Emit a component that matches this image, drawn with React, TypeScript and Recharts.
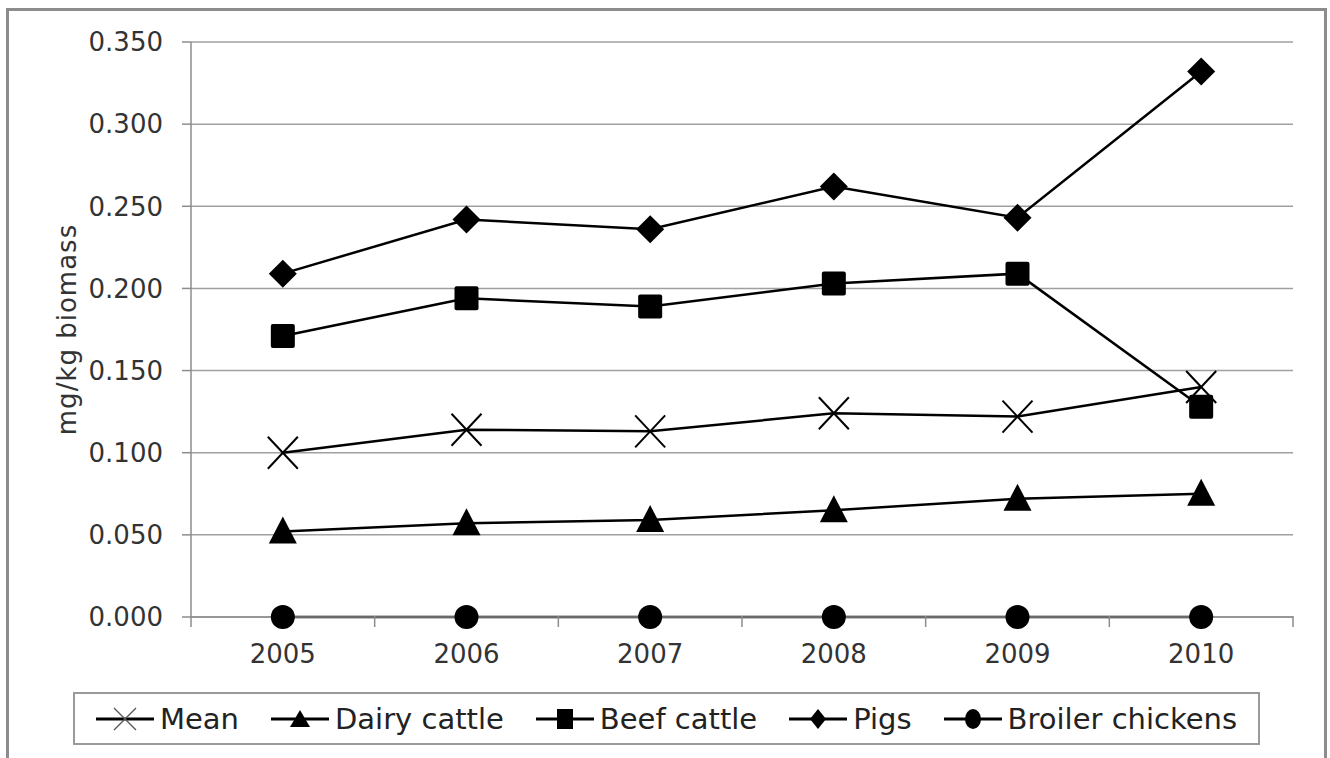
import React from 'react';
import {
  LineChart,
  Line,
  XAxis,
  YAxis,
  CartesianGrid,
  Legend,
} from 'recharts';

const years = ['2005', '2006', '2007', '2008', '2009', '2010'];
const meanValues = [0.1, 0.114, 0.113, 0.124, 0.122, 0.14];
const dairyValues = [0.052, 0.057, 0.059, 0.065, 0.072, 0.075];
const beefValues = [0.171, 0.194, 0.189, 0.203, 0.209, 0.128];
const pigValues = [0.209, 0.242, 0.236, 0.262, 0.243, 0.332];
const broilerValues = [0, 0, 0, 0, 0, 0];
const yTicks = [0, 0.05, 0.1, 0.15, 0.2, 0.25, 0.3, 0.35];

const data = years.map((year, i) => ({
  year,
  mean: meanValues[i],
  dairy: dairyValues[i],
  beef: beefValues[i],
  pigs: pigValues[i],
  broiler: broilerValues[i],
}));

type Shape = 'cross' | 'triangle' | 'square' | 'diamond' | 'circle';

const series: { key: string; name: string; shape: Shape }[] = [
  { key: 'mean', name: 'Mean', shape: 'cross' },
  { key: 'dairy', name: 'Dairy cattle', shape: 'triangle' },
  { key: 'beef', name: 'Beef cattle', shape: 'square' },
  { key: 'pigs', name: 'Pigs', shape: 'diamond' },
  { key: 'broiler', name: 'Broiler chickens', shape: 'circle' },
];

const FONT = '"DejaVu Sans", sans-serif';
const CHART_W = 1315;
const CHART_H = 747;
const MARGIN = { top: 31, right: 31, left: 0, bottom: 81 };
const Y_AXIS_W = 182;
const PLOT_W = CHART_W - MARGIN.right - Y_AXIS_W;
const BAND = PLOT_W / years.length;

const marker = (shape: Shape, cx: number, cy: number, key?: string | number) => {
  switch (shape) {
    case 'cross':
      return (
        <g key={key}>
          <line x1={cx - 15} y1={cy - 16} x2={cx + 15} y2={cy + 16} stroke='#000' strokeWidth={2} />
          <line x1={cx - 15} y1={cy + 16} x2={cx + 15} y2={cy - 16} stroke='#000' strokeWidth={2} />
        </g>
      );
    case 'triangle':
      return (
        <polygon
          key={key}
          points={`${cx},${cy - 15} ${cx + 14},${cy + 12} ${cx - 14},${cy + 12}`}
          fill='#000'
        />
      );
    case 'square':
      return <rect key={key} x={cx - 12} y={cy - 12} width={24} height={24} rx={2} fill='#000' />;
    case 'diamond':
      return (
        <polygon
          key={key}
          points={`${cx},${cy - 14} ${cx + 14},${cy} ${cx},${cy + 14} ${cx - 14},${cy}`}
          fill='#000'
        />
      );
    default:
      return <circle key={key} cx={cx} cy={cy} r={12} fill='#000' />;
  }
};

const legendIcon = (shape: Shape) => {
  const w = 58;
  const c = w / 2;
  const m = 16;
  let mark: React.ReactNode;
  if (shape === 'cross') {
    mark = (
      <g stroke='#555' strokeWidth={1.3}>
        <line x1={c - 11} y1={m - 11} x2={c + 11} y2={m + 11} />
        <line x1={c - 11} y1={m + 11} x2={c + 11} y2={m - 11} />
      </g>
    );
  } else if (shape === 'triangle') {
    mark = <polygon points={`${c},${m - 9} ${c + 10},${m + 8} ${c - 10},${m + 8}`} fill='#000' />;
  } else if (shape === 'square') {
    mark = <rect x={c - 8} y={m - 10} width={16} height={20} fill='#000' />;
  } else if (shape === 'diamond') {
    mark = <polygon points={`${c},${m - 10} ${c + 8},${m} ${c},${m + 10} ${c - 8},${m}`} fill='#000' />;
  } else {
    mark = <ellipse cx={c} cy={m} rx={8} ry={10} fill='#000' />;
  }
  return (
    <svg width={w} height={32} style={{ display: 'block' }}>
      <line x1={0} y1={m} x2={w} y2={m} stroke='#000' strokeWidth={3} />
      {mark}
    </svg>
  );
};

const LegendBox = () => (
  <div
    style={{
      boxSizing: 'border-box',
      width: 1187,
      height: 53,
      border: '2px solid #9a9a9a',
      display: 'flex',
      alignItems: 'center',
      justifyContent: 'center',
      fontFamily: FONT,
      fontSize: 29,
      color: '#222',
    }}
  >
    {series.map((s, i) => (
      <div
        key={s.key}
        style={{
          display: 'flex',
          alignItems: 'center',
          marginLeft: i === 0 ? 0 : 32,
        }}
      >
        {legendIcon(s.shape)}
        <span style={{ marginLeft: 6, whiteSpace: 'nowrap' }}>{s.name}</span>
      </div>
    ))}
  </div>
);

const YearTick = (props: any) => {
  const { x, y, payload, index } = props;
  const top = y - 10;
  const last = index === years.length - 1;
  return (
    <g>
      <line x1={x - BAND / 2} y1={top - 1} x2={x - BAND / 2} y2={top + 10} stroke='#8c8c8c' strokeWidth={1.5} />
      {last && (
        <line x1={x + BAND / 2} y1={top - 1} x2={x + BAND / 2} y2={top + 10} stroke='#8c8c8c' strokeWidth={1.5} />
      )}
      <text
        x={x}
        y={y + 27}
        textAnchor='middle'
        dominantBaseline='central'
        fontFamily={FONT}
        fontSize={26}
        fill='#333'
      >
        {payload.value}
      </text>
    </g>
  );
};

const App: React.FC = () => {
  return (
    <div
      style={{
        position: 'absolute',
        left: 6,
        top: 8,
        width: 1321,
        height: 780,
        boxSizing: 'border-box',
        border: '3px solid #8c8c8c',
        background: '#fff',
      }}
    >
      <LineChart width={CHART_W} height={CHART_H} data={data} margin={MARGIN}>
        <CartesianGrid vertical={false} stroke='#a0a0a0' strokeWidth={1.5} />
        <XAxis
          dataKey='year'
          padding={{ left: BAND / 2, right: BAND / 2 }}
          axisLine={{ stroke: '#8c8c8c', strokeWidth: 1.5 }}
          tickLine={false}
          tickSize={10}
          tickMargin={0}
          height={60}
          tick={<YearTick />}
          interval={0}
        />
        <YAxis
          width={Y_AXIS_W}
          domain={[0, 0.35]}
          ticks={yTicks}
          tickFormatter={(v: number) => v.toFixed(3)}
          axisLine={{ stroke: '#8c8c8c', strokeWidth: 1.5 }}
          tickLine={{ stroke: '#8c8c8c', strokeWidth: 1.5 }}
          tickSize={9}
          tickMargin={19}
          tick={{ fontFamily: FONT, fontSize: 26, fill: '#333' }}
          label={{
            value: 'mg/kg biomass',
            angle: -90,
            position: 'insideLeft',
            offset: 58,
            style: { textAnchor: 'middle', fontFamily: FONT, fontSize: 26, fill: '#333', letterSpacing: 1 },
          }}
        />
        <Legend
          layout='horizontal'
          verticalAlign='middle'
          align='center'
          wrapperStyle={{ top: 681, left: 64, width: 1187, height: 53 }}
          content={<LegendBox />}
        />
        {series.map((s) => (
          <Line
            key={s.key}
            type='linear'
            dataKey={s.key}
            name={s.name}
            stroke='#000'
            strokeWidth={2.5}
            isAnimationActive={false}
            dot={(p: any) => marker(s.shape, p.cx, p.cy, `${s.key}-${p.index}`)}
            activeDot={false}
          />
        ))}
      </LineChart>
    </div>
  );
};

export default App;
